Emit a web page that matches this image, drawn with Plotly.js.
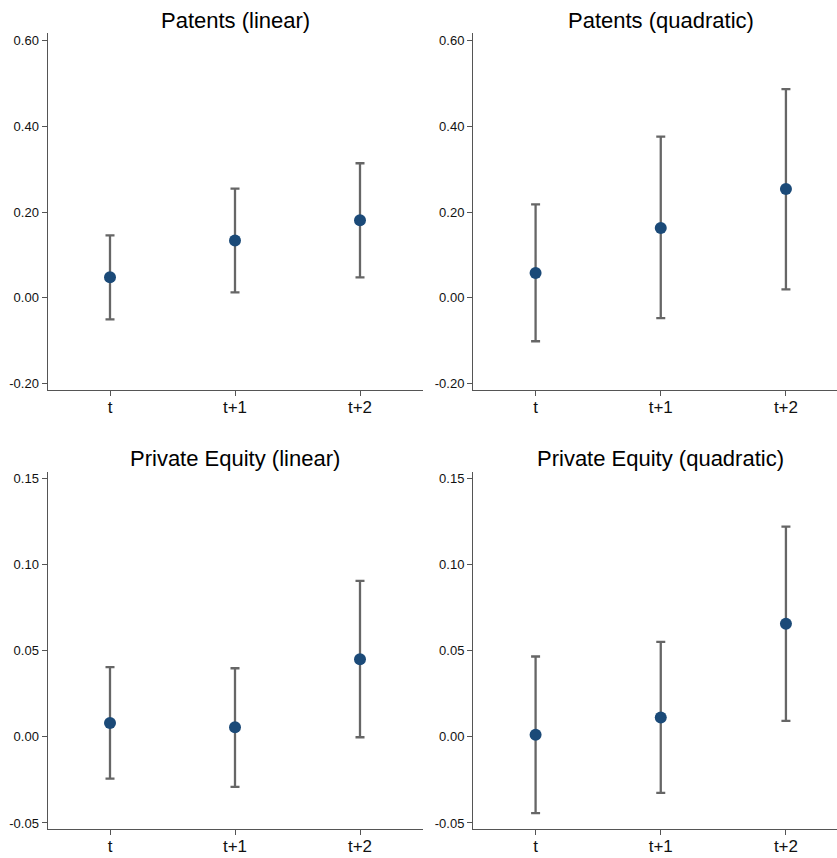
<!DOCTYPE html>
<html>
<head>
<meta charset="utf-8">
<script src="https://cdn.plot.ly/plotly-3.0.1.min.js"></script>
<style>
html,body{margin:0;padding:0;overflow:hidden;background:#fff;}
#chart{width:837px;height:858px;}
</style>
</head>
<body>
<div id="chart"></div>
<script>
// ---- data ----
const horizons = ["t", "t+1", "t+2"];
const xPos = [1, 2, 3];

const patentsLinearCoef  = [0.048, 0.134, 0.181];
const patentsLinearHi    = [0.146, 0.255, 0.314];
const patentsLinearLo    = [-0.050, 0.013, 0.048];

const patentsQuadCoef    = [0.058, 0.163, 0.254];
const patentsQuadHi      = [0.218, 0.376, 0.487];
const patentsQuadLo      = [-0.101, -0.047, 0.020];

const peLinearCoef       = [0.0081, 0.0056, 0.0451];
const peLinearHi         = [0.0405, 0.0399, 0.0906];
const peLinearLo         = [-0.0242, -0.0290, -0.0002];

const peQuadCoef         = [0.0012, 0.0113, 0.0658];
const peQuadHi           = [0.0467, 0.0552, 0.1222];
const peQuadLo           = [-0.0443, -0.0325, 0.0093];

const panelTitles = ["Patents (linear)", "Patents (quadratic)", "Private Equity (linear)", "Private Equity (quadratic)"];

const patentTickVals = [-0.2, 0, 0.2, 0.4, 0.6];
const patentTickText = ["-0.20", "0.00", "0.20", "0.40", "0.60"];
const peTickVals = [-0.05, 0, 0.05, 0.10, 0.15];
const peTickText = ["-0.05", "0.00", "0.05", "0.10", "0.15"];

// ---- build ----
const W = 837, H = 858;
const markerColor = "#1b4a78";
const barColor = "#666666";

function panel(coef, hi, lo, xa, ya) {
  return {
    type: "scatter", mode: "markers",
    x: xPos, y: coef,
    xaxis: xa, yaxis: ya,
    marker: {color: markerColor, size: 12, line: {width: 0}},
    error_y: {
      type: "data", symmetric: false,
      array: hi.map((h, i) => h - coef[i]),
      arrayminus: coef.map((c, i) => c - lo[i]),
      color: barColor, thickness: 2.3, width: 4.5
    },
    hoverinfo: "skip", showlegend: false, cliponaxis: false
  };
}

const data = [
  panel(patentsLinearCoef, patentsLinearHi, patentsLinearLo, "x", "y"),
  panel(patentsQuadCoef, patentsQuadHi, patentsQuadLo, "x2", "y2"),
  panel(peLinearCoef, peLinearHi, peLinearLo, "x3", "y3"),
  panel(peQuadCoef, peQuadHi, peQuadLo, "x4", "y4")
];

const font = "Liberation Sans, Arial, Helvetica, sans-serif";

function xaxis(domain, range, anchor) {
  return {
    domain: domain, range: range, anchor: anchor,
    tickmode: "array", tickvals: xPos, ticktext: horizons,
    showline: true, linecolor: "#555", linewidth: 1,
    ticks: "outside", ticklen: 5, tickcolor: "#555", tickwidth: 1,
    showgrid: false, zeroline: false,
    tickfont: {family: font, size: 17, color: "#111"},
    ticklabelstandoff: -3,
    fixedrange: true
  };
}
function yaxis(domain, range, anchor, vals, text) {
  return {
    domain: domain, range: range, anchor: anchor,
    tickmode: "array", tickvals: vals, ticktext: text,
    showline: true, linecolor: "#555", linewidth: 1,
    ticks: "outside", ticklen: 5, tickcolor: "#555", tickwidth: 1,
    showgrid: false, zeroline: false,
    tickfont: {family: font, size: 13, color: "#111"},
    fixedrange: true
  };
}

const leftDom = [47.5 / W, 422.5 / W];
const rightDom = [473 / W, 1];
const topDom = [1 - 390 / H, 1 - 33.3 / H];
const botDom = [1 - 829 / H, 1 - 472 / H];

const patRange = [-0.2147, 0.617];
const peRange = [-0.0535, 0.1539];

const layout = {
  width: W, height: H,
  margin: {l: 0, r: 0, t: 0, b: 0},
  paper_bgcolor: "#fff", plot_bgcolor: "#fff",
  font: {family: font},
  showlegend: false,
  xaxis: xaxis(leftDom, [0.5, 3.5], "y"),
  yaxis: yaxis(topDom, patRange, "x", patentTickVals, patentTickText),
  xaxis2: xaxis(rightDom, [0.5, 3.408], "y2"),
  yaxis2: yaxis(topDom, patRange, "x2", patentTickVals, patentTickText),
  xaxis3: xaxis(leftDom, [0.5, 3.5], "y3"),
  yaxis3: yaxis(botDom, peRange, "x3", peTickVals, peTickText),
  xaxis4: xaxis(rightDom, [0.5, 3.408], "y4"),
  yaxis4: yaxis(botDom, peRange, "x4", peTickVals, peTickText),
  annotations: [
    {text: panelTitles[0], xref: "x", x: 2, yref: "paper", y: 1 - 20.5 / H},
    {text: panelTitles[1], xref: "x2", x: 2, yref: "paper", y: 1 - 20.5 / H},
    {text: panelTitles[2], xref: "x3", x: 2, yref: "paper", y: 1 - 458.8 / H},
    {text: panelTitles[3], xref: "x4", x: 2, yref: "paper", y: 1 - 458.8 / H}
  ].map(a => Object.assign(a, {
    showarrow: false, xanchor: "center", yanchor: "middle",
    font: {family: font, size: 22, color: "#000"}
  }))
};

Plotly.newPlot("chart", data, layout, {displayModeBar: false, staticPlot: true});
</script>
</body>
</html>
